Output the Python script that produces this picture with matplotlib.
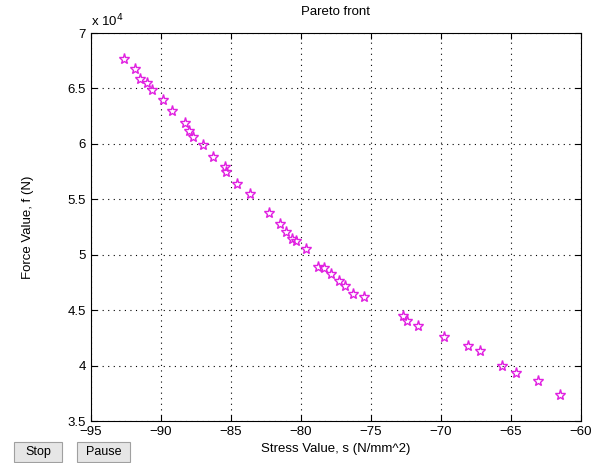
import numpy as np
import matplotlib.pyplot as plt
from matplotlib.ticker import FuncFormatter
from matplotlib.patches import FancyBboxPatch

# Pareto front points
stress = [-92.62, -91.86, -91.50, -90.98, -90.66, -89.84, -89.19, -88.29, -88.00, -87.69,
          -87.02, -86.26, -85.43, -85.36, -84.59, -83.66, -82.30, -81.50, -81.07, -80.64,
          -80.36, -79.64, -78.76, -78.36, -77.86, -77.31, -76.88, -76.31, -75.50, -72.71,
          -72.43, -71.62, -69.76, -68.05, -67.21, -65.62, -64.66, -63.05, -61.50]
force = [67630, 66750, 65850, 65460, 64860, 63960, 62940, 61860, 61160, 60600,
         59900, 58790, 57940, 57440, 56380, 55510, 53800, 52780, 52060, 51400,
         51220, 50500, 48930, 48780, 48240, 47640, 47220, 46440, 46220, 44450,
         44060, 43580, 42560, 41780, 41330, 39970, 39310, 38650, 37390]

xticks = [-95, -90, -85, -80, -75, -70, -65, -60]
yticks = [35000, 40000, 45000, 50000, 55000, 60000, 65000, 70000]

plt.rcParams['font.family'] = ['Liberation Sans', 'DejaVu Sans']

fig = plt.figure(figsize=(5.92, 4.63), dpi=100)
fig.patch.set_facecolor('white')
ax = fig.add_axes([0.1537, 0.0907, 0.8277, 0.838])

ax.plot(stress, force, linestyle='none', marker='*', markersize=8,
        markerfacecolor='none', markeredgecolor='#E020E0', markeredgewidth=1.0)

ax.set_xlim(-95, -60)
ax.set_ylim(35000, 70000)
ax.set_xticks(xticks)
ax.set_yticks(yticks)
ax.yaxis.set_major_formatter(FuncFormatter(lambda v, p: '%g' % (v / 1e4)))
ax.tick_params(direction='in', length=4, labelsize=9.5, top=True, right=True,
               labeltop=False, labelright=False)
ax.grid(True, color='black', linestyle=(0, (1, 4)), linewidth=0.8)
for s in ax.spines.values():
    s.set_linewidth(0.8)

ax.set_title('Pareto front', fontsize=9.5, pad=13)
ax.set_xlabel('Stress Value, s (N/mm^2)', fontsize=9.5, labelpad=4)
ax.set_ylabel('Force Value, f (N)', fontsize=9.5, labelpad=24)
ax.text(0.0, 1.01, 'x 10$^4$', transform=ax.transAxes, fontsize=9.5,
        ha='left', va='bottom')

# Stop / Pause buttons
for label, x0, w in [('Stop', 14, 48), ('Pause', 77, 53)]:
    btn = FancyBboxPatch((x0 / 592, 1 - 462 / 463), w / 592, 20 / 463,
                         boxstyle='square,pad=0', transform=fig.transFigure,
                         facecolor='#E6E6E6', edgecolor='#A0A0A0', linewidth=0.8)
    fig.patches.append(btn)
    fig.text((x0 + w / 2) / 592, 1 - 452 / 463, label, ha='center', va='center',
             fontsize=9)

fig.savefig('out.png', dpi=100)
